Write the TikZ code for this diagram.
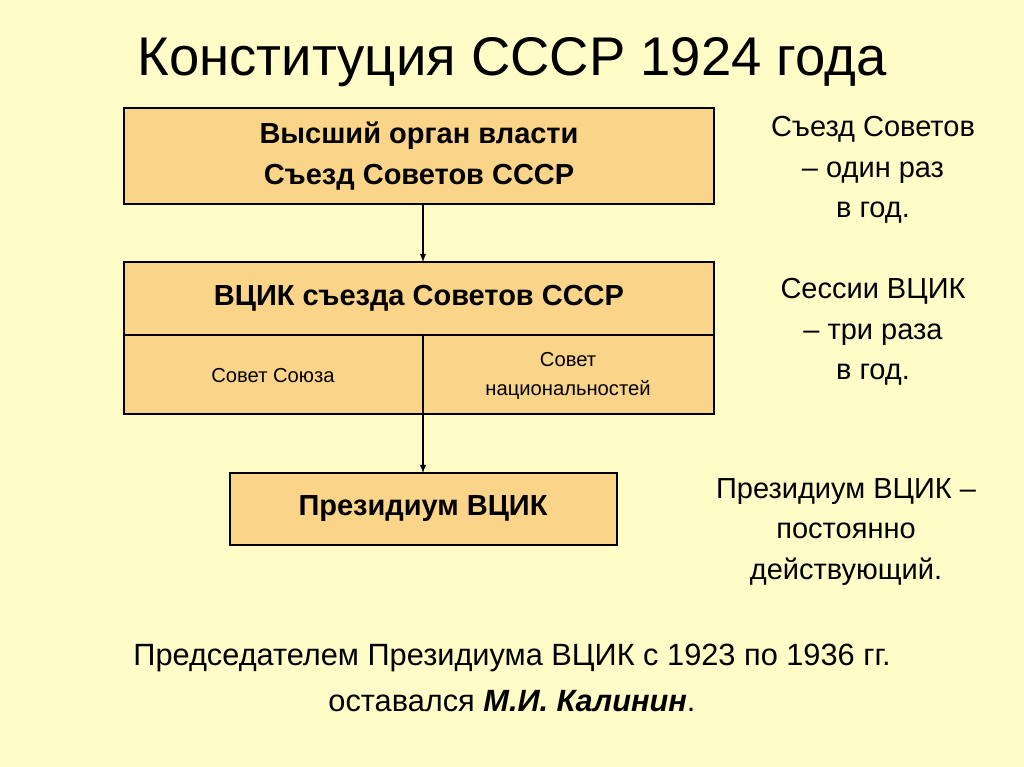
\documentclass[tikz,border=0pt]{standalone}
\usepackage{fontspec}
\setmainfont{Liberation Sans}
\begin{document}
\begin{tikzpicture}[x=0.02cm,y=-0.02cm,
  bx/.style={draw=black,fill=orange!45!yellow!70,line width=0.8pt},
  arr/.style={-latex,line width=0.6pt},
  side/.style={font=\fontsize{16.5}{23}\selectfont,align=center}]
\fill[yellow!22] (0,0) rectangle (1024,767);
\useasboundingbox (0,0) rectangle (1024,767);
\node (title) at (512,62) {\fontsize{31}{36}\selectfont Конституция СССР 1924 года};
\draw[bx,fill={rgb,255:red,250;green,212;blue,136}] (124,108) rectangle (714,204);
\node[font=\bfseries\fontsize{16.5}{23}\selectfont,align=center] (b1) at (419,156) {Высший орган власти\\Съезд Советов СССР};
\draw[bx,fill={rgb,255:red,250;green,212;blue,136}] (124,262) rectangle (714,414);
\draw[line width=0.8pt] (124,335) -- (714,335) (423,335) -- (423,414);
\node[font=\bfseries\fontsize{16.5}{23}\selectfont] (b2) at (419,298) {ВЦИК съезда Советов СССР};
\node[font=\fontsize{11.5}{17}\selectfont] (s1) at (273,376) {Совет Союза};
\node[font=\fontsize{11.5}{17}\selectfont,align=center] (s2) at (568,376) {Совет\\национальностей};
\draw[bx,fill={rgb,255:red,250;green,212;blue,136}] (230,473) rectangle (617,545);
\node[font=\bfseries\fontsize{16.5}{23}\selectfont] (b3) at (423,509) {Президиум ВЦИК};
\coordinate (a1) at (423,204); \coordinate (a2) at (423,262);
\coordinate (a3) at (423,414); \coordinate (a4) at (423,473);
\draw[arr] (a1) -- (a2);
\draw[arr] (a3) -- (a4);
\node[side] (t1) at (873,170) {Съезд Советов\\– один раз\\в год.};
\node[side] (t2) at (873,332) {Сессии ВЦИК\\– три раза\\в год.};
\node[side] (t3) at (846,532) {Президиум ВЦИК –\\постоянно\\действующий.};
\node[font=\fontsize{17.5}{26}\selectfont,align=center] (bot) at (512,678) {Председателем Президиума ВЦИК с 1923 по 1936 гг.\\оставался \textbf{\itshape М.И. Калинин}.};
\end{tikzpicture}
\end{document}
